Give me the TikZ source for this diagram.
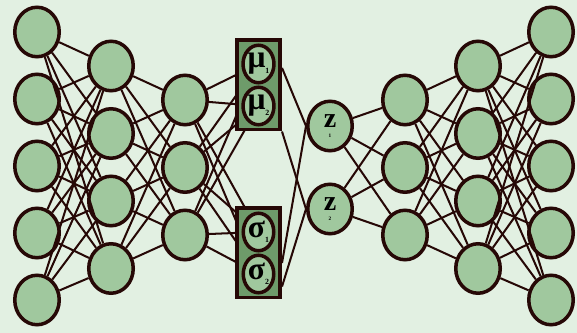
\documentclass[tikz,border=0pt]{standalone}
\usepackage{fontspec}
\setmainfont{Liberation Serif}
\usetikzlibrary{shapes.geometric,backgrounds}
\definecolor{bgcol}{HTML}{E2F0E2}
\definecolor{cellfill}{HTML}{A0C89E}
\definecolor{boxfill}{HTML}{6E9B6A}
\definecolor{edgecol}{HTML}{260806}
\newcommand{\tinysub}[1]{{\fontsize{4.5}{4.5}\selectfont #1}}
\newcommand{\zsub}[1]{{\fontsize{3}{3}\selectfont #1}}

\begin{document}
\begin{tikzpicture}[x=0.02cm, y=-0.02cm,
  neuron/.style={ellipse, draw=edgecol, fill=cellfill, line width=2pt, minimum width=0.89cm, minimum height=0.99cm, inner sep=0pt},
  latent/.style={ellipse, draw=edgecol, fill=cellfill, line width=2pt, minimum width=0.61cm, minimum height=0.75cm, inner sep=0pt, font=\fontsize{18}{18}\selectfont\bfseries},
  group/.style={rectangle, draw=edgecol, fill=boxfill, line width=2pt, minimum width=0.87cm, minimum height=1.79cm, inner sep=0pt},
  code/.style={neuron, align=center, font=\fontsize{16}{16}\selectfont\bfseries},
  link/.style={draw=edgecol, line width=1.15pt}
]
\begin{scope}[on background layer]
  \fill[bgcol] (0,0) rectangle (577,333);
\end{scope}
\useasboundingbox (0,0) rectangle (577,333);

% encoder
\foreach \i in {1,...,5} \node[neuron] (in\i) at (37,{32+67*(\i-1)}) {};
\foreach \i in {1,...,4} \node[neuron] (h\i) at (111,{66+67.5*(\i-1)}) {};
\foreach \i in {1,...,3} \node[neuron] (e\i) at (185,{100+67.5*(\i-1)}) {};

% mean and spread
\node[group] (mubox) at (258.5,85) {};
\node[group] (sigbox) at (258.5,253) {};
\node[latent] (mu1) at (258.5,64) {μ\raisebox{-3pt}{\tinysub{1}}};
\node[latent] (mu2) at (258.5,106) {μ\raisebox{-3pt}{\tinysub{2}}};
\node[latent] (sig1) at (258.5,232) {σ\raisebox{-3pt}{\tinysub{1}}};
\node[latent] (sig2) at (258.5,274) {σ\raisebox{-3pt}{\tinysub{2}}};

% sampled code
\node[code] (z1) at (330,126) {z\\[-10pt]\zsub{1}};
\node[code] (z2) at (330,209) {z\\[-10pt]\zsub{2}};

% decoder
\foreach \i in {1,...,3} \node[neuron] (d\i) at (405,{100+67.5*(\i-1)}) {};
\foreach \i in {1,...,4} \node[neuron] (g\i) at (478,{66+67.5*(\i-1)}) {};
\foreach \i in {1,...,5} \node[neuron] (out\i) at (551,{32+67*(\i-1)}) {};

% links
\foreach \i in {1,...,5} \foreach \j in {1,...,4} \draw[link] (in\i) -- (h\j);
\foreach \i in {1,...,4} \foreach \j in {1,...,3} \draw[link] (h\i) -- (e\j);
\begin{scope}[on background layer]
  \foreach \i in {1,...,3} \foreach \j in {mu1,mu2,sig1,sig2} \draw[link] (e\i) -- (\j.center);
\end{scope}
\draw[link] (mubox.36) -- (z1.west);
\draw[link] (mubox.south east) -- (z2.west);
\draw[link] (sigbox.-23) -- (z1.west);
\draw[link] (sigbox.-55) -- (z2.west);
\foreach \i in {1,2} \foreach \j in {1,...,3} \draw[link] (z\i) -- (d\j);
\foreach \i in {1,...,3} \foreach \j in {1,...,4} \draw[link] (d\i) -- (g\j);
\foreach \i in {1,...,4} \foreach \j in {1,...,5} \draw[link] (g\i) -- (out\j);
\end{tikzpicture}
\end{document}
